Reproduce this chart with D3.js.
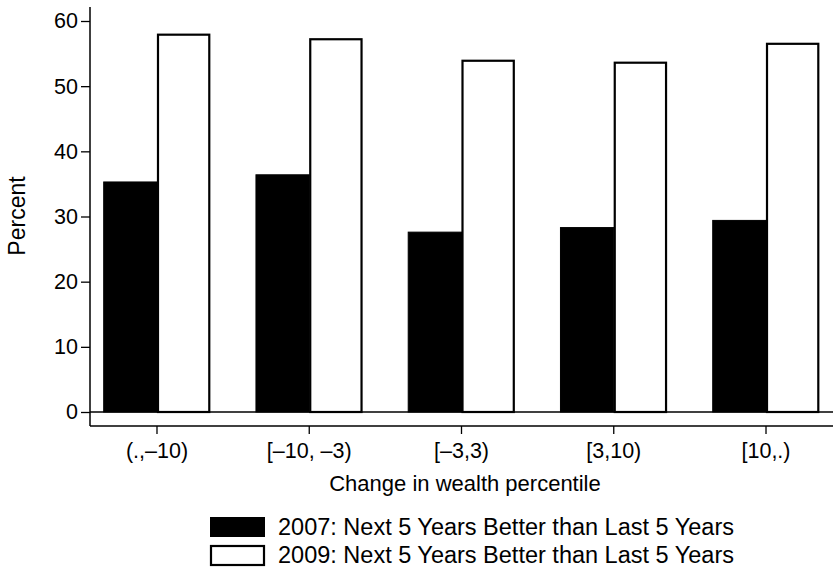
<!DOCTYPE html>
<html>
<head>
<meta charset="utf-8">
<script src="https://cdn.jsdelivr.net/npm/d3@7"></script>
<style>
  body { margin: 0; background: #fff; }
  text { font-family: "Liberation Sans", Arial, sans-serif; fill: #000; }
</style>
</head>
<body>
<svg id="chart" width="833" height="569"></svg>
<script>
var categories = ["(.,\u201310)", "[\u201310, \u20133)", "[\u20133,3)", "[3,10)", "[10,.)"]
var keys = ["y2007", "y2009"]
var values2007 = [35.3, 36.4, 27.6, 28.3, 29.4]
var values2009 = [57.9, 57.2, 53.9, 53.6, 56.5]
var legendLabels = ["2007: Next 5 Years Better than Last 5 Years", "2009: Next 5 Years Better than Last 5 Years"]
var yTicks = [0, 10, 20, 30, 40, 50, 60]

var data = categories.map((c, i) => ({ name: c, y2007: values2007[i], y2009: values2009[i] }))

var svg = d3.select("#chart"),
    margin = { top: 7, left: 90, bottom: 143, right: 0 },
    width = 833,
    height = 569;

var plotBottom = 412

var x = d3.scaleBand()
    .domain(categories)
    .range([margin.left, width - margin.right])
    .paddingInner(0.3)
    .paddingOuter(0.09)

var x1 = d3.scaleBand()
    .domain(keys)
    .range([0, x.bandwidth()])

var y = d3.scaleLinear()
    .domain([0, 60])
    .range([plotBottom, 21])

var fill = d3.scaleOrdinal().domain(keys).range(["#000", "#fff"])

// baseline at zero
svg.append("line")
    .attr("x1", margin.left).attr("x2", width)
    .attr("y1", y(0)).attr("y2", y(0))
    .attr("stroke", "#000").attr("stroke-width", 1.5)

// bars
var group = svg.selectAll("g.layer")
    .data(data)
    .enter().append("g")
    .attr("class", "layer")
    .attr("transform", d => `translate(${x(d.name)},0)`)

group.selectAll("rect")
    .data(d => keys.map(k => ({ key: k, value: d[k] })))
    .enter().append("rect")
    .attr("x", d => x1(d.key) + (d.key == "y2009" ? 1 : 0))
    .attr("y", d => y(d.value))
    .attr("width", d => x1.bandwidth() - (d.key == "y2009" ? 2 : 0))
    .attr("height", d => y(0) - y(d.value))
    .attr("fill", d => fill(d.key))
    .attr("stroke", "#000")
    .attr("stroke-width", d => d.key == "y2009" ? 2.2 : 1)

// y axis
var yAxis = svg.append("g")
    .attr("transform", `translate(${margin.left},0)`)
    .call(d3.axisLeft(y).tickValues(yTicks).tickSize(9).tickPadding(3).tickSizeOuter(0))
yAxis.select(".domain").remove()
yAxis.append("line")
    .attr("x1", 0).attr("x2", 0).attr("y1", 7).attr("y2", 426)
    .attr("stroke", "#000").attr("stroke-width", 1.5)
yAxis.selectAll(".tick line").attr("stroke-width", 1.3)
yAxis.selectAll("text").style("font-size", "21.5px").attr("fill", "#000")

// x axis
var xAxis = svg.append("g")
    .attr("transform", "translate(0,426)")
    .call(d3.axisBottom(x).tickSize(8).tickPadding(9).tickSizeOuter(0))
xAxis.select(".domain").remove()
xAxis.append("line")
    .attr("x1", margin.left).attr("x2", width).attr("y1", 0).attr("y2", 0)
    .attr("stroke", "#000").attr("stroke-width", 1.5)
xAxis.selectAll(".tick line").attr("stroke-width", 1.3)
xAxis.selectAll("text").style("font-size", "21.5px").attr("fill", "#000")

// titles
svg.append("text")
    .attr("transform", "translate(25,216) rotate(-90)")
    .attr("text-anchor", "middle")
    .style("font-size", "23px")
    .text("Percent")

svg.append("text")
    .attr("x", 465).attr("y", 491)
    .attr("text-anchor", "middle")
    .style("font-size", "22px")
    .text("Change in wealth percentile")

// legend
var legend = svg.selectAll("g.legend")
    .data(keys)
    .enter().append("g")
    .attr("class", "legend")
    .attr("transform", (d, i) => `translate(210,${517 + i * 28})`)

legend.append("rect")
    .attr("x", d => d == "y2009" ? 1 : 0)
    .attr("y", d => d == "y2009" ? 1 : 0)
    .attr("width", d => d == "y2009" ? 53 : 55)
    .attr("height", d => d == "y2009" ? 19 : 20)
    .attr("fill", d => fill(d))
    .attr("stroke", "#000")
    .attr("stroke-width", d => d == "y2009" ? 2.2 : 0)

legend.append("text")
    .attr("x", 68).attr("y", 18)
    .style("font-size", "23.5px")
    .text((d, i) => legendLabels[i])
</script>
</body>
</html>
